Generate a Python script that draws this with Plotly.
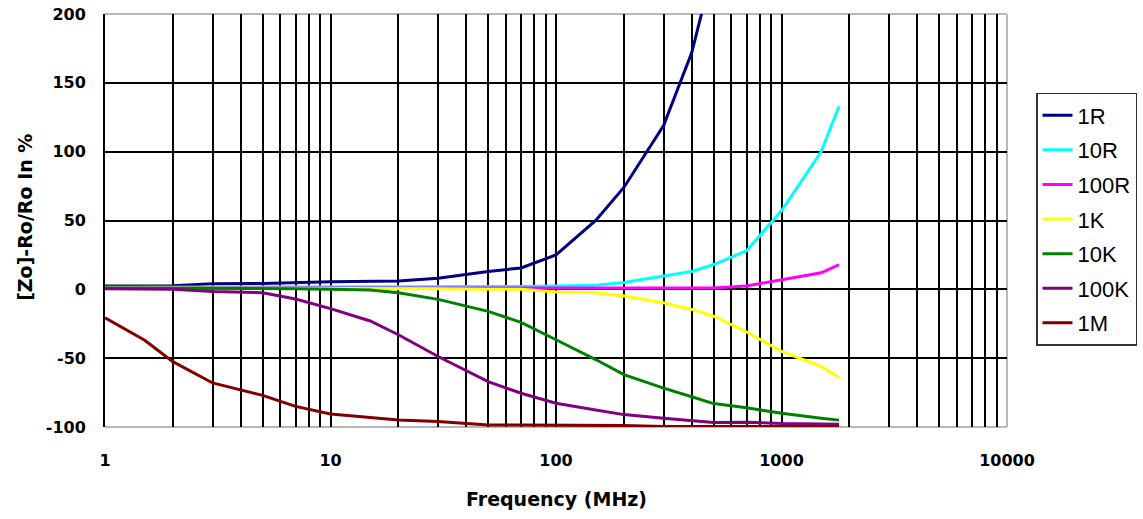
import plotly.graph_objects as go

# Frequencies (MHz)
freq = [1, 1.5, 2, 3, 5, 7, 10, 15, 20, 30, 50, 70, 100, 150, 200, 300, 400, 500, 700, 1000, 1500, 1800]

# 1R leaves the chart top near 450 MHz
freq_1r = [1, 2, 3, 5, 10, 20, 30, 50, 70, 100, 150, 200, 300, 400, 500]
r_1r = [2.4, 2.6, 4, 4.2, 5.5, 6, 8, 13, 15.5, 25, 50, 74, 119, 172, 235]

r_10r = [1.5, 1.5, 1.5, 1.5, 1.5, 1.5, 1.5, 1.5, 1.5, 1.5, 1.5, 2, 2.5, 3, 5, 10, 13, 18, 28, 57, 100, 133]
r_100r = [1, 1, 1, 1, 1, 1, 1, 1, 0.8, 0.5, 0.5, 0.5, 0.5, 0.5, 0.5, 0.5, 0.8, 1, 2.5, 7, 12, 18]
r_1k = [1, 1, 1, 1, 1, 1, 1, 0.5, 0.5, 0.5, 0, 0, -2, -2.4, -4.8, -9.7, -14.6, -19.4, -31, -45, -56, -64]
r_10k = [1, 1, 0.5, 0.5, 0.5, 0.5, 0, -0.5, -2.5, -7.3, -16, -24, -36.6, -51, -62, -71.8, -78, -83, -86, -90, -93.6, -95]
r_100k = [0.5, 0.5, 0, -1.5, -2.5, -7, -14, -23, -33, -48.8, -67, -75.5, -82.7, -87.6, -91, -93.6, -95.5, -96.8, -96.5, -97.5, -97.8, -98]
r_1m = [-20.6, -37, -52.5, -68, -77, -85, -90.5, -93, -94.9, -96, -98.5, -98.5, -98.5, -99, -99, -99.7, -99.7, -99.7, -99.7, -99.7, -99.7, -99.7]

series_names = ["1R", "10R", "100R", "1K", "10K", "100K", "1M"]
series_x = [freq_1r, freq, freq, freq, freq, freq, freq]
series_y = [r_1r, r_10r, r_100r, r_1k, r_10k, r_100k, r_1m]
colors = ["#000080", "#00FFFF", "#FF00FF", "#FFFF00", "#008000", "#800080", "#800000"]

y_ticks = [-100, -50, 0, 50, 100, 150, 200]
y_ticktext = ["-100", "-50", "0", "50", "100", "150", "200"]
x_major = [1, 10, 100, 1000, 10000]

x_grid = []
for d in [1, 10, 100, 1000]:
    for m in range(1, 10):
        x_grid.append(d * m)
x_grid.append(10000)
x_text = [str(v) if v in x_major else "" for v in x_grid]

fig = go.Figure()
for i, (name, xs, ys, c) in enumerate(zip(series_names, series_x, series_y, colors)):
    fig.add_trace(go.Scatter(
        x=xs, y=ys, mode="lines", name=name,
        line=dict(color=c, width=3),
        legendgroup=f"g{i}",
    ))

tick_font = dict(family="DejaVu Sans", size=16, color="black", weight="bold")

fig.update_layout(
    width=1143, height=519,
    margin=dict(l=105, r=136, t=14, b=92, autoexpand=False),
    paper_bgcolor="white", plot_bgcolor="white",
    showlegend=True,
    legend=dict(
        x=(1036 - 105) / 902, xanchor="left",
        y=(427.3 - 93) / 413.3, yanchor="top",
        bordercolor="#333", borderwidth=1.5, bgcolor="white",
        font=dict(family="Liberation Sans", size=22, color="black"),
        tracegroupgap=3,
        itemwidth=30,
    ),
    xaxis=dict(
        type="log", range=[0, 4], automargin=False,
        tickvals=x_grid, ticktext=x_text,
        showgrid=True, gridcolor="#000", gridwidth=1.8,
        showline=False, zeroline=False,
        ticks="", ticklabelstandoff=22,
        tickfont=tick_font,
    ),
    yaxis=dict(
        range=[-100, 200], automargin=False,
        tickvals=y_ticks, ticktext=y_ticktext,
        showgrid=True, gridcolor="#000", gridwidth=1.8,
        showline=True, linecolor="black", linewidth=1.8,
        zeroline=False,
        ticks="", ticklabelstandoff=14,
        tickfont=tick_font,
    ),
    shapes=[
        dict(type="line", xref="paper", yref="paper", x0=0, x1=1, y0=1, y1=1,
             line=dict(color="#b8b8b8", width=2), layer="between"),
        dict(type="line", xref="paper", yref="paper", x0=1, x1=1, y0=0, y1=1,
             line=dict(color="#b8b8b8", width=2), layer="between"),
        dict(type="line", xref="paper", yref="paper", x0=0, x1=1, y0=0, y1=0,
             line=dict(color="#b8b8b8", width=2), layer="between"),
    ],
    annotations=[
        dict(text="Frequency (MHz)", xref="paper", yref="paper",
             x=0.5, y=-(499 - 427.3) / 413.3, xanchor="center", yanchor="middle",
             showarrow=False,
             font=dict(family="DejaVu Sans", size=19, color="black", weight="bold")),
        dict(text="[Zo]-Ro/Ro In %", xref="paper", yref="paper",
             x=(25 - 105) / 902, y=(427.3 - 218) / 413.3, xanchor="center", yanchor="middle",
             textangle=-90, showarrow=False,
             font=dict(family="DejaVu Sans", size=19, color="black", weight="bold")),
    ],
)

fig.write_html(
    "out.html",
    config={"displayModeBar": False},
    post_script="document.body.style.margin='0';document.body.style.overflow='hidden';",
)
